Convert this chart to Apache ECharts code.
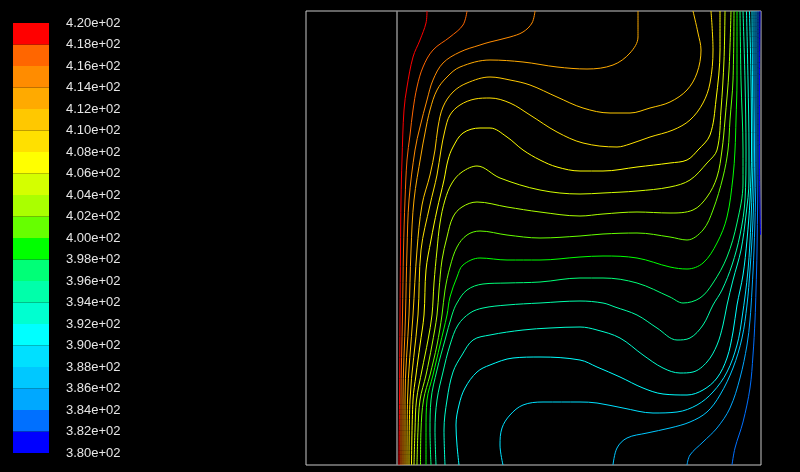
<!DOCTYPE html>
<html><head><meta charset="utf-8">
<script src="https://cdn.jsdelivr.net/npm/echarts@6/dist/echarts.min.js"></script>
<style>html,body{margin:0;padding:0;background:#000;}#chart{width:800px;height:472px;}</style>
</head><body><div id="chart"></div>
<script>
// Colour-bar tick values (K) and band colours, bottom (380) to top (420)
const legendTicks = [380,382,384,386,388,390,392,394,396,398,400,402,404,406,408,410,412,414,416,418,420];
const bandColors = ['#0000ff','#0070ff','#00a8ff','#00c8ff','#00e0ff','#00ffff','#00ffd0','#00ffaa','#00ff77','#00ff00',
                    '#66ff00','#aaff00','#d4ff00','#ffff00','#ffe000','#ffc800','#ffaa00','#ff8c00','#ff6600','#ff0000'];
// Contour levels (K), hottest first
const contourLevels = [419,417,415,413,411,409,407,405,403,401,399,397,395,393,391,389,387,385,383,381];
// Solid/fluid interface line (x = 0)
const wallLine = [[0,0],[0,454]];
// Contour lines, [x, y] in cavity units (x: 0..364, y: 0..454)
const line01 = [[30,454],[29,442],[23,425],[16,408],[10,378],[7,355],[5,305],[4,265],[3.5,215],[3,150],[2.5,65],[2,0]];
const line02 = [[70,454],[66,440],[53,428],[36,415],[26,398],[20,378],[16,355],[13,330],[10,305],[8,265],[6.5,215],[5.5,150],[4,65],[4,0]];
const line03 = [[138,454],[135,442],[126,433],[113,428],[93,423],[83,420],[63,413],[46,402],[36,385],[30,365],[23,338],[18,315],[12,265],[10,215],[8.5,150],[6,65],[6,0]];
const line04 = [[241,454],[241,428],[233,412],[216,400],[190,396],[160,398],[126,403],[93,405],[63,398],[50,388],[40,375],[33,355],[28,332],[24,310],[17,265],[14,215],[12,150],[8,65],[8,0]];
const line05 = [[296,454],[301,432],[304,415],[300,392],[290,375],[273,363],[253,357],[233,352],[213,352],[186,357],[160,368],[133,380],[113,385],[93,388],[70,382],[56,373],[46,358],[41,338],[38,315],[33,290],[25,260],[20,215],[16,150],[10.5,65],[10,0]];
const line06 = [[314,454],[316,415],[313,382],[306,362],[293,345],[276,335],[253,328],[233,321],[220,318],[186,322],[160,333],[133,350],[113,362],[93,367],[78,366],[63,360],[53,350],[48,335],[44,315],[40,290],[33,260],[24,215],[21,150],[13,65],[12,0]];
const line07 = [[323,454],[323,415],[319,365],[313,330],[301,315],[290,305],[273,302],[240,298],[206,294],[183,294],[160,298],[143,305],[126,315],[110,328],[93,337],[83,337],[66,332],[56,318],[51,305],[47,285],[40,255],[34,225],[29,195],[27,150],[23,120],[19,90],[16,65],[14.5,0]];
const line08 = [[17,0],[18,35],[19.5,65],[25,95],[31,125],[35,150],[37,182],[40,215],[43,242],[48,265],[55,282],[65,293],[80,299],[103,287],[143,275],[183,271],[206,272],[240,274],[273,278],[293,285],[310,302],[320,315],[324,355],[327,405],[328,454]];
const line09 = [[20,0],[21,35],[23,65],[29,90],[35,120],[40,150],[42,175],[45,205],[50,228],[56,248],[65,258],[80,263],[110,258],[143,253],[183,249],[206,251],[240,253],[273,252],[296,255],[310,268],[320,288],[325,315],[328,345],[332,395],[334,454]];
const line10 = [[23.5,0],[24,35],[26.5,65],[33,90],[40,120],[45,150],[48,175],[53,198],[60,218],[70,230],[83,234],[110,230],[143,227],[183,229],[206,231],[240,232],[273,228],[290,225],[306,235],[316,255],[326,288],[331,315],[333,345],[336,385],[337,454]];
const line11 = [[29,0],[29,35],[30,65],[36,90],[43,120],[50,150],[53,168],[60,188],[66,200],[83,207],[110,205],[143,205],[183,208],[206,209],[240,207],[273,198],[290,196],[306,202],[320,222],[330,248],[336,288],[338,315],[339,345],[340,385],[340,454]];
const line12 = [[34,0],[33,35],[34,65],[40,95],[48,125],[55,150],[60,162],[70,175],[86,181],[110,182],[143,183],[183,187],[206,187],[240,182],[273,168],[286,162],[303,167],[316,182],[330,208],[340,242],[346,282],[346,315],[344,385],[343,454]];
const line13 = [[39,0],[38,35],[40,65],[46,93],[53,120],[61,140],[73,152],[86,157],[110,160],[143,162],[183,164],[206,162],[218,158],[240,150],[260,137],[280,125],[293,127],[306,140],[316,160],[325,175],[335,200],[343,230],[348,265],[349,315],[348,385],[346,454]];
const line14 = [[48,0],[47,35],[50,65],[56,93],[65,110],[76,125],[93,130],[126,135],[153,137],[183,138],[200,135],[223,127],[246,110],[266,97],[283,92],[296,93],[310,103],[320,120],[326,140],[330,160],[336,185],[344,215],[349,250],[352,285],[352,315],[351,385],[349.5,454]];
const line15 = [[62,0],[60,20],[59,40],[62,60],[68,77],[80,93],[93,100],[116,107],[143,108],[183,105],[200,98],[223,88],[246,77],[266,71],[290,70],[306,75],[320,87],[330,107],[336,133],[340,160],[346,190],[350,225],[353,265],[354.5,315],[354,385],[352.5,454]];
const line16 = [[106,0],[103,20],[105,37],[113,50],[126,60],[146,63],[183,63],[200,62],[226,57],[256,52],[280,53],[300,60],[316,73],[330,93],[340,120],[345,147],[351,195],[354,245],[356,315],[355.5,385],[355,454]];
const line17 = [[216,0],[220,17],[230,27],[250,32],[273,37],[293,43],[310,53],[323,70],[336,97],[345,127],[350,160],[353,195],[356,245],[357.5,315],[357,385],[357,454]];
const line18 = [[290,0],[293,10],[306,23],[320,37],[333,57],[343,87],[350,120],[353,145],[355,175],[357,215],[358.5,265],[359,315],[359,385],[359,454]];
const line19 = [[335,0],[338,17],[346,43],[353,77],[356,110],[358,145],[359,175],[360,215],[361,315],[361,454]];
const line20 = [[363,454],[362.5,380],[362.5,300],[363.5,230]];

const contourLines = [line01,line02,line03,line04,line05,line06,line07,line08,line09,line10,
                      line11,line12,line13,line14,line15,line16,line17,line18,line19,line20];

function levelColor(v) {
  for (let i = 0; i < bandColors.length; i++) {
    if (v >= legendTicks[i] && v < legendTicks[i + 1]) return bandColors[i];
  }
  return bandColors[bandColors.length - 1];
}
function fmtExp(v) {
  return v.toExponential(2).replace(/e([+-])(\d)$/, 'e$10$2');
}

const bands = bandColors.map((c, i) => [legendTicks[i], legendTicks[i + 1], i]);

const chart = echarts.init(document.getElementById('chart'), null, {renderer: 'canvas'});

const series = [];
series.push({
  type: 'custom', xAxisIndex: 1, yAxisIndex: 1, data: bands, silent: true, clip: false,
  renderItem: function (params, api) {
    const a = api.coord([0, api.value(1)]);
    const b = api.coord([1, api.value(0)]);
    return {type: 'rect', shape: {x: a[0], y: a[1], width: b[0] - a[0], height: b[1] - a[1]},
            style: {fill: bandColors[api.value(2)]}};
  }
});
series.push({
  type: 'line', xAxisIndex: 0, yAxisIndex: 0, data: wallLine, showSymbol: false, silent: true,
  lineStyle: {color: '#8e8e8e', width: 1.5}
});
contourLines.forEach((pts, i) => {
  series.push({
    type: 'line', xAxisIndex: 0, yAxisIndex: 0, data: pts, showSymbol: false, silent: true,
    smooth: 0.35,
    lineStyle: {color: levelColor(contourLevels[i]), width: 1}
  });
});

chart.setOption({
  backgroundColor: '#000000',
  animation: false,
  grid: [
    {left: 306, top: 11, width: 455, height: 454, show: true, borderColor: '#c8c8c8', borderWidth: 1, backgroundColor: 'transparent'},
    {left: 13, top: 23, width: 36, height: 430}
  ],
  xAxis: [
    {type: 'value', gridIndex: 0, min: -91, max: 364, show: false},
    {type: 'value', gridIndex: 1, min: 0, max: 1, show: false}
  ],
  yAxis: [
    {type: 'value', gridIndex: 0, min: 0, max: 454, show: false},
    {type: 'value', gridIndex: 1, min: 380, max: 420, interval: 2, position: 'right',
     axisLine: {show: false}, axisTick: {show: false}, splitLine: {show: false},
     axisLabel: {margin: 17, color: '#e6e6e6', fontSize: 13, fontFamily: 'Liberation Sans',
                 showMinLabel: true, showMaxLabel: true, formatter: fmtExp}}
  ],
  series: series
});
</script></body></html>
